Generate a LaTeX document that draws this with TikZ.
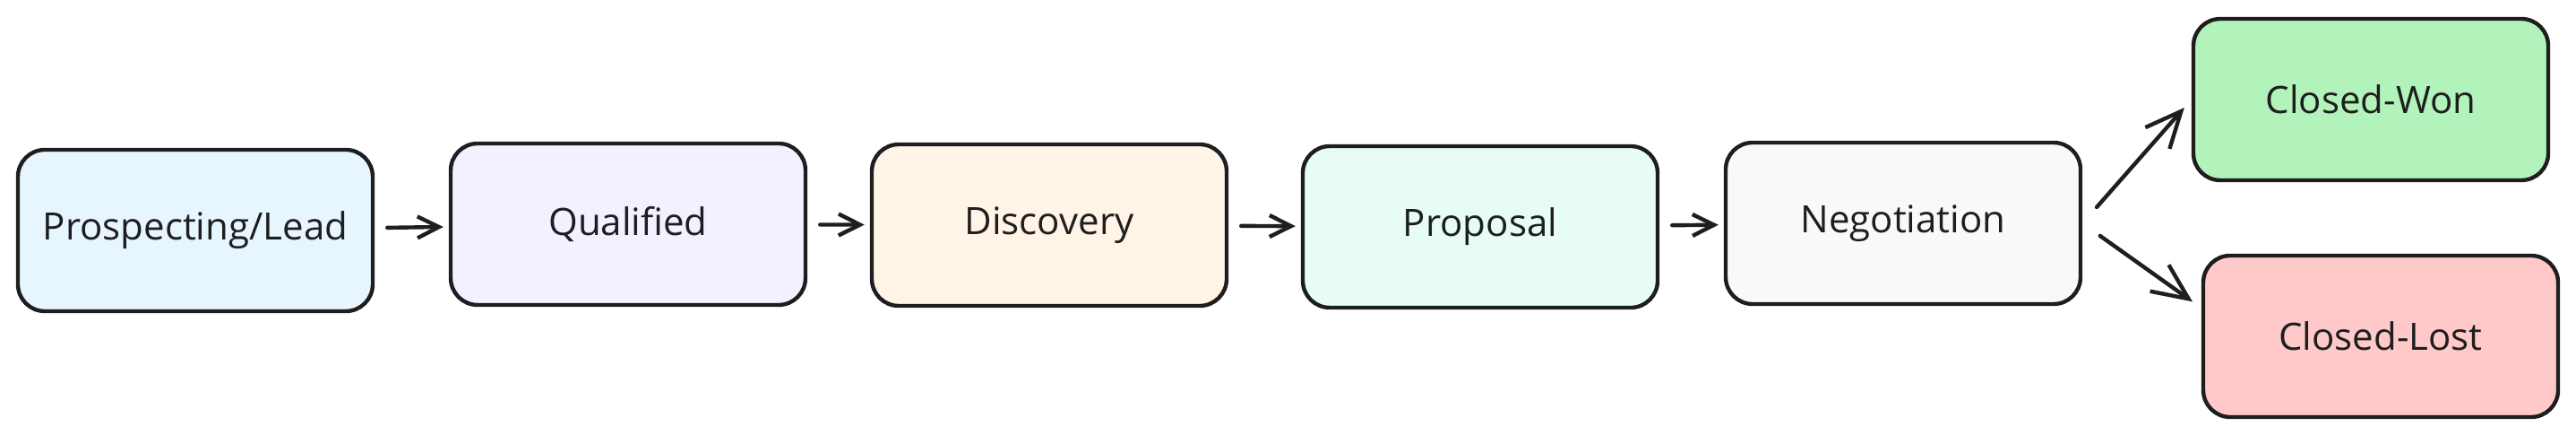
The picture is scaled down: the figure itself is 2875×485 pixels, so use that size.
\documentclass[tikz,border=0pt]{standalone}
\usepackage{fontspec}
\setmainfont{Open Sans}
\usepackage{tikz}
\usetikzlibrary{arrows.meta}

\definecolor{ink}{HTML}{1E1E1E}
\definecolor{leadblue}{HTML}{E7F5FF}
\definecolor{qualviolet}{HTML}{F3F0FF}
\definecolor{discorange}{HTML}{FFF4E6}
\definecolor{propteal}{HTML}{E6FCF5}
\definecolor{negogray}{HTML}{F8F9FA}
\definecolor{wongreen}{HTML}{B2F2BB}
\definecolor{lostred}{HTML}{FFC9C9}

\begin{document}
\begin{tikzpicture}[x=0.5pt,y=-0.5pt,
  stage/.style={draw=ink,line width=2.2pt,rounded corners=15pt,minimum width=198pt,minimum height=90pt,
    font=\fontsize{21}{25}\selectfont,text=ink},
  flow/.style={draw=ink,line width=2.2pt,line cap=round,-{Straight Barb[length=12pt,width=12pt]},
    shorten <=7pt,shorten >=3pt},
  fork/.style={flow,-{Straight Barb[length=20pt,width=18pt]},shorten <=12pt,shorten >=6pt}]
\useasboundingbox (0,0) rectangle (2875,485);
% pipeline stages
\node[stage,fill=leadblue]   (lead) at (218,257)  {Prospecting/Lead};
\node[stage,fill=qualviolet] (qual) at (701,250)  {Qualified};
\node[stage,fill=discorange] (disc) at (1171,251) {Discovery};
\node[stage,fill=propteal]   (prop) at (1652,253) {Proposal};
\node[stage,fill=negogray]   (nego) at (2124,249) {Negotiation};
% outcomes
\node[stage,fill=wongreen]   (won)  at (2646,111) {Closed-Won};
\node[stage,fill=lostred]    (lost) at (2657,375) {Closed-Lost};
% arrows
\draw[flow] (lead) -- (qual);
\draw[flow] (qual) -- (disc);
\draw[flow] (disc) -- (prop);
\draw[flow] (prop) -- (nego);
\draw[fork] (nego.east) -- (won.west);
\draw[fork] (nego.east) -- (lost.171);
\end{tikzpicture}
\end{document}
